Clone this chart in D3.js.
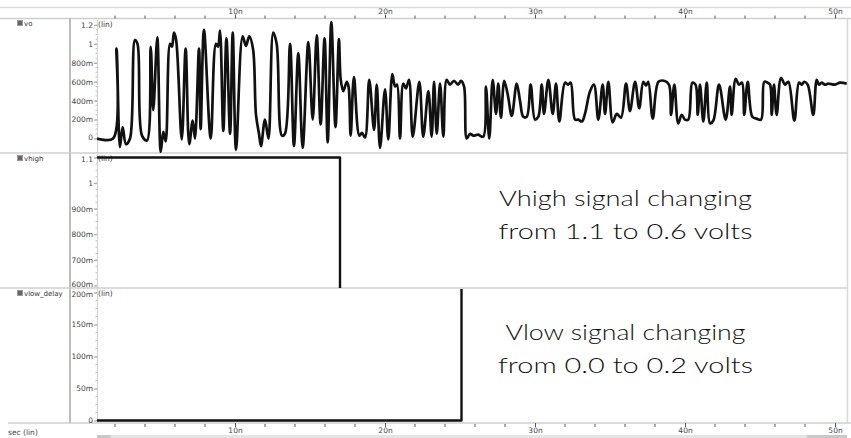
<!DOCTYPE html>
<html>
<head>
<meta charset="utf-8">
<script src="https://cdn.jsdelivr.net/npm/d3@7"></script>
<style>
  html, body { margin: 0; padding: 0; background: #fff; }
  svg { display: block; }
  .tick-label { font-family: "DejaVu Sans", sans-serif; font-size: 7.5px; fill: #444; }
  .sig-label { font-family: "DejaVu Sans", sans-serif; font-size: 7px; fill: #333; }
  .note { font-family: "Lato", "Noto Sans", sans-serif; font-size: 21px; font-weight: 300; fill: #111; }
</style>
</head>
<body>
<svg id="chart" width="851" height="438"></svg>
<script>
// ---------------- DATA ----------------
const xTickValues = [10, 20, 30, 40, 50];
const xTickLabels = ["10n", "20n", "30n", "40n", "50n"];

const voTicks = [0, 0.2, 0.4, 0.6, 0.8, 1.0, 1.2];
const voTickLabels = ["0", "200m", "400m", "600m", "800m", "1", "1.2"];
const vhighTicks = [0.6, 0.7, 0.8, 0.9, 1.0, 1.1];
const vhighTickLabels = ["600m", "700m", "800m", "900m", "1", "1.1"];
const vlowTicks = [0, 0.05, 0.1, 0.15, 0.2];
const vlowTickLabels = ["0", "50m", "100m", "150m", "200m"];

const signalNames = ["vo", "vhigh", "vlow_delay"];

// time in ns
const voTime = [0.8, 1.87, 2.1, 2.33, 2.51, 2.73, 3.0, 3.33, 3.5, 3.8, 4.13, 4.38, 4.55, 4.82, 5.05, 5.22, 5.38, 5.67, 5.8, 5.93, 6.07, 6.45, 6.71, 6.95, 7.18, 7.33, 7.6, 7.71, 7.93, 8.38, 8.73, 8.87, 9.0, 9.22, 9.43, 9.67, 9.85, 10.07, 10.51, 10.73, 10.95, 11.2, 11.4, 11.6, 11.73, 12.0, 12.23, 12.55, 12.78, 13.13, 13.33, 13.67, 13.93, 14.22, 14.51, 14.89, 15.18, 15.45, 15.71, 15.97, 16.18, 16.42, 16.7, 16.93, 17.05, 17.22, 17.45, 17.57, 17.71, 17.93, 18.29, 18.47, 18.67, 18.95, 19.27, 19.45, 19.67, 20.0, 20.22, 20.49, 20.67, 20.8, 21.0, 21.22, 21.4, 21.6, 21.85, 22.29, 22.55, 22.89, 23.11, 23.27, 23.45, 23.67, 23.89, 24.11, 24.33, 24.6, 24.87, 25.07, 25.27, 25.45, 25.67, 25.89, 26.2, 26.55, 26.73, 26.95, 27.18, 27.4, 27.55, 27.73, 27.95, 28.2, 28.45, 28.78, 29.0, 29.22, 29.45, 29.71, 30.0, 30.22, 30.45, 30.6, 30.89, 31.18, 31.4, 31.62, 32.0, 32.2, 32.38, 32.67, 32.89, 33.13, 33.33, 33.67, 33.93, 34.22, 34.51, 34.67, 34.89, 35.18, 35.45, 35.73, 36.07, 36.33, 36.67, 36.95, 37.22, 37.4, 37.55, 37.85, 38.23, 38.6, 38.93, 39.07, 39.29, 39.55, 39.78, 40.0, 40.22, 40.49, 40.7, 40.85, 41.0, 41.22, 41.45, 41.67, 41.89, 42.27, 42.71, 43.0, 43.11, 43.38, 43.6, 43.8, 43.95, 44.18, 44.49, 44.78, 45.07, 45.29, 45.51, 45.67, 45.78, 45.93, 46.11, 46.4, 46.67, 46.89, 47.29, 47.6, 47.78, 47.95, 48.18, 48.55, 48.78, 48.93, 49.11, 49.33, 49.55, 50.0, 50.33, 50.78];
const voValue = [0, 0, 0.95, -0.09, 0.12, -0.06, 0.0, 1.04, 1.0, 0.03, -0.02, 0.97, 0.3, 1.07, -0.14, 0.07, -0.03, 1.0, 0.97, 1.12, 1.05, -0.01, 0.95, -0.06, 0.19, 0.0, 0.95, 0.1, 1.15, 0.0, 1.0, 0.97, 1.14, 0.08, 1.06, 0.05, 1.12, -0.12, 1.08, 0.98, 1.08, 0.95, 0.25, 0.05, -0.08, 0.2, 0.0, 1.12, 1.0, 0.03, 0.05, 1.0, -0.08, 0.9, -0.1, 1.02, 0.2, 1.09, 0.15, 1.06, -0.04, 1.23, 0.12, 1.05, 0.62, 0.5, 0.6, 0.55, 0.03, 0.65, 0.03, 0.06, 0.01, 0.62, 0.09, 0.57, -0.1, 0.52, -0.01, 0.68, 0.55, 0.57, 0.0, 0.58, 0.53, 0.62, 0.02, 0.6, 0.02, 0.5, 0.02, 0.6, 0.05, 0.58, 0.02, 0.62, 0.57, 0.61, 0.57, 0.61, 0.55, 0.0, 0.05, 0.03, 0.04, 0.02, 0.55, 0.0, 0.62, 0.26, 0.58, 0.22, 0.61, 0.45, 0.24, 0.58, 0.4, 0.23, 0.23, 0.57, 0.2, 0.23, 0.57, 0.26, 0.62, 0.26, 0.58, 0.18, 0.59, 0.57, 0.59, 0.2, 0.2, 0.18, 0.26, 0.5, 0.57, 0.2, 0.57, 0.26, 0.6, 0.17, 0.26, 0.22, 0.58, 0.29, 0.6, 0.32, 0.6, 0.56, 0.6, 0.21, 0.6, 0.61, 0.57, 0.25, 0.57, 0.16, 0.25, 0.2, 0.2, 0.59, 0.57, 0.25, 0.57, 0.18, 0.59, 0.16, 0.19, 0.57, 0.2, 0.55, 0.25, 0.63, 0.57, 0.59, 0.25, 0.6, 0.23, 0.21, 0.2, 0.6, 0.59, 0.57, 0.25, 0.57, 0.25, 0.64, 0.57, 0.6, 0.19, 0.59, 0.57, 0.6, 0.57, 0.25, 0.62, 0.57, 0.59, 0.57, 0.58, 0.57, 0.59, 0.58];

const vhighTime = [0.8, 17.0, 17.0];
const vhighValue = [1.1, 1.1, 0.55];
const vlowTime = [0.8, 25.1, 25.1];
const vlowValue = [0.0, 0.0, 0.21];

const notes = [
  ["Vhigh signal changing", "from 1.1 to 0.6 volts"],
  ["Vlow signal changing", "from 0.0 to 0.2 volts"]
];

// ---------------- LAYOUT ----------------
const W = 851, H = 438;
const plotL = 97, plotR = 847;
const svg = d3.select("#chart");
const grid = "#cfcfcf";

const x = d3.scaleLinear().domain([0.8, 50.8]).range([plotL, plotR]);

const panels = [
  { name: signalNames[0], top: 18, bottom: 153, y: d3.scaleLinear().domain([0, 1.2]).range([138.5, 25]),
    ticks: voTicks, labels: voTickLabels, minor: d3.range(0, 1.2001, 0.05), t: voTime, v: voValue, curve: d3.curveCatmullRom.alpha(0.5) },
  { name: signalNames[1], top: 153, bottom: 288, y: d3.scaleLinear().domain([0.6, 1.1]).range([285.5, 157.5]),
    ticks: vhighTicks, labels: vhighTickLabels, minor: d3.range(0.6, 1.1001, 0.025), t: vhighTime, v: vhighValue, curve: d3.curveLinear },
  { name: signalNames[2], top: 288, bottom: 423, y: d3.scaleLinear().domain([0, 0.2]).range([420.5, 292.5]),
    ticks: vlowTicks, labels: vlowTickLabels, minor: d3.range(0, 0.2001, 0.0125), t: vlowTime, v: vlowValue, curve: d3.curveLinear }
];

// background frame lines
svg.append("line").attr("x1", 0).attr("x2", W).attr("y1", 7.5).attr("y2", 7.5).attr("stroke", "#dcdcdc").attr("stroke-width", 1.5);
svg.append("line").attr("x1", 0).attr("x2", W).attr("y1", 18.5).attr("y2", 18.5).attr("stroke", grid).attr("stroke-width", 1.5);
svg.append("line").attr("x1", 8).attr("x2", W).attr("y1", 423).attr("y2", 423).attr("stroke", grid).attr("stroke-width", 1.5);
svg.append("line").attr("x1", 70).attr("x2", 70).attr("y1", 18).attr("y2", 423).attr("stroke", "#bdbdbd").attr("stroke-width", 2);
svg.append("line").attr("x1", plotR + 0.5).attr("x2", plotR + 0.5).attr("y1", 18).attr("y2", 423).attr("stroke", "#d8d8d8").attr("stroke-width", 1.5);
[153, 288].forEach(yy => {
  svg.append("line").attr("x1", 0).attr("x2", plotR).attr("y1", yy).attr("y2", yy).attr("stroke", grid).attr("stroke-width", 1.5);
});

// scrollbar at bottom
svg.append("rect").attr("x", plotL).attr("y", 435).attr("width", plotR - plotL).attr("height", 3).attr("fill", "#e4e4e4");
svg.append("rect").attr("x", plotL).attr("y", 435).attr("width", 14).attr("height", 3).attr("fill", "#c8c8c8");
svg.append("rect").attr("x", plotR - 40).attr("y", 435).attr("width", 40).attr("height", 3).attr("fill", "#c8c8c8");

// ---------------- X AXES ----------------
const minorX = d3.range(2, 51, 2).filter(d => d % 10 !== 0);
const topAxis = d3.axisTop(x).tickValues(xTickValues).tickFormat((d, i) => xTickLabels[i]).tickSize(4).tickPadding(1);
const gTop = svg.append("g").attr("transform", "translate(0,18.5)").call(topAxis);
const botAxis = d3.axisBottom(x).tickValues(xTickValues).tickFormat((d, i) => xTickLabels[i]).tickSize(4).tickPadding(1);
const gBot = svg.append("g").attr("transform", "translate(0,423)").call(botAxis);
[gTop, gBot].forEach(g => {
  g.select(".domain").remove();
  g.selectAll(".tick line").attr("stroke", "#555");
  g.selectAll(".tick text").attr("class", "tick-label").attr("font-family", null).attr("font-size", null);
});
gTop.selectAll(".minor").data(minorX).join("line").attr("class", "minor")
  .attr("x1", d => x(d)).attr("x2", d => x(d)).attr("y1", -3).attr("y2", 0).attr("stroke", "#555");
gBot.selectAll(".minor").data(minorX).join("line").attr("class", "minor")
  .attr("x1", d => x(d)).attr("x2", d => x(d)).attr("y1", 1).attr("y2", 4).attr("stroke", "#555");
svg.append("text").attr("class", "tick-label").attr("x", 8).attr("y", 435).text("sec (lin)");

// ---------------- PANELS ----------------
const defs = svg.append("defs");
panels.forEach((p, i) => {
  // signal label with icon
  svg.append("rect").attr("x", 17.5).attr("y", p.top + 2.5).attr("width", 5).attr("height", 5)
    .attr("fill", "#666").attr("stroke", "#999").attr("stroke-width", 1);
  svg.append("text").attr("class", "sig-label").attr("x", 24).attr("y", p.top + 8).text(p.name);

  // y axis
  const ax = d3.axisLeft(p.y).tickValues(p.ticks).tickFormat((d, k) => p.labels[k]).tickSize(3).tickPadding(1);
  const g = svg.append("g").attr("transform", `translate(${plotL},0)`).call(ax);
  g.select(".domain").remove();
  g.selectAll(".tick line").attr("stroke", "#999");
  const nT = p.ticks.length;
  g.selectAll(".tick text").attr("class", "tick-label").attr("font-family", null).attr("font-size", null)
    .attr("transform", (d, k) => k === 0 && i < 2 ? "translate(0,-1.5)" : (k === nT - 1 && i > 0 ? "translate(0,1.5)" : null));
  svg.append("line").attr("x1", plotL + 0.5).attr("x2", plotL + 0.5).attr("y1", p.top).attr("y2", p.bottom)
    .attr("stroke", "#d0d0d0").attr("stroke-width", 1);
  g.selectAll(".ymin").data(p.minor).join("line").attr("class", "ymin")
    .attr("x1", -1.5).attr("x2", 0).attr("y1", d => p.y(d)).attr("y2", d => p.y(d)).attr("stroke", "#bbb");
  svg.append("text").attr("class", "tick-label").attr("x", plotL + 1)
    .attr("y", p.y(p.ticks[nT - 1]) + (i > 0 ? 1.5 : 0))
    .attr("dy", "0.32em").text("(lin)");

  // clip + line
  defs.append("clipPath").attr("id", "clip" + i).append("rect")
    .attr("x", plotL).attr("y", p.top + 1).attr("width", plotR - plotL).attr("height", p.bottom - p.top - 1);
  const pts = p.t.map((t, k) => [t, p.v[k]]);
  const line = d3.line().x(d => x(d[0])).y(d => p.y(d[1])).curve(p.curve);
  svg.append("path").datum(pts).attr("clip-path", `url(#clip${i})`)
    .attr("d", line).attr("fill", "none").attr("stroke", "#111").attr("stroke-width", i === 0 ? 2.7 : 2.4)
    .attr("stroke-linejoin", "round");
});

// ---------------- ANNOTATIONS ----------------
const noteY = [[197, 230], [331, 364]];
const noteW = [[253, 254], [240, 255]];
notes.forEach((pair, i) => {
  pair.forEach((txt, k) => {
    svg.append("text").attr("class", "note").attr("x", 625.5).attr("y", noteY[i][k])
      .attr("text-anchor", "middle").attr("dominant-baseline", "central")
      .attr("textLength", noteW[i][k]).attr("lengthAdjust", "spacingAndGlyphs").text(txt);
  });
});
</script>
</body>
</html>
